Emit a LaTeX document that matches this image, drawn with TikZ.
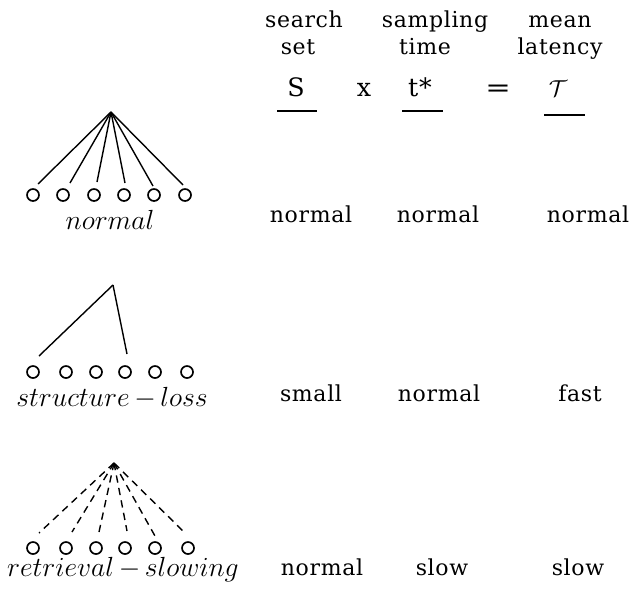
\documentclass[tikz,border=0pt]{standalone}
\usepackage{fontspec}
\usetikzlibrary{calc}
% slab-serif face for the table, italic math face for the tree labels
\newfontfamily\slabface[LetterSpace=3]{DejaVu Serif}
\newcommand\slabfont{\slabface\fontsize{16.5}{20}\selectfont}
\newcommand\prodfont{\slabface\fontsize{19}{22}\selectfont}
\newcommand\labfont{\fontsize{20}{24}\selectfont}
\newcommand\hy{\mkern3mu\mathord{-}\mkern3mu}
\begin{document}
\begin{tikzpicture}[x=0.75pt,y=-0.75pt,
  leaf/.style={circle,draw,line width=1.25pt,minimum size=9pt,inner sep=0pt},
  edge/.style={line width=1.05pt},
  dashedge/.style={line width=1.05pt,dash pattern=on 5.5pt off 4pt},
  rule/.style={line width=1.1pt},
  word/.style={font=\slabfont,anchor=base,inner sep=0pt},
  prod/.style={font=\prodfont,anchor=base,inner sep=0pt},
  lab/.style={font=\labfont,anchor=base,inner sep=0pt}]
\useasboundingbox (0,0) rectangle (634,588);

% column headings
\node[word] (h1a) at (304,28) {search};
\node[word] (h1b) at (298,55) {set};
\node[word] (h2a) at (435,28) {sampling};
\node[word] (h2b) at (425,55) {time};
\node[word] (h3a) at (560,28) {mean};
\node[word] (h3b) at (560,55) {latency};

% the product S x t* = T
\node[prod] (S) at (296,97) {S};
\node[prod] (times) at (364,97) {x};
\node[prod] (t) at (420,97) {t*};
\node[prod] (eq) at (498,97) {\addfontfeatures{FakeStretch=1.2}=};
\node[prod] (tau) at (558,97) {$\mathcal{T}$};
\coordinate (uS1) at (277,111);  \coordinate (uS2) at (317,111);
\coordinate (ut1) at (402,111);  \coordinate (ut2) at (443,111);
\coordinate (uT1) at (544,115);  \coordinate (uT2) at (585,115);
\draw[rule] (uS1) -- (uS2);
\draw[rule] (ut1) -- (ut2);
\draw[rule] (uT1) -- (uT2);

% tree 1: normal
\coordinate (ra) at (111,112);
\foreach \i/\x in {1/33,2/63,3/94,4/124,5/154,6/185}
  \node[leaf] (a\i) at (\x,195) {};
\foreach \i/\x/\y in {1/38/184,2/70/183,3/97/182,4/125/183,5/153/186,6/183/185}{
  \coordinate (ea\i) at (\x,\y);
  \draw[edge] (ra) -- (ea\i);
}
\node[lab] (la) at (110,229) {$normal$};

% tree 2: structure-loss
\coordinate (rb) at (113,285);
\foreach \i/\x in {1/33,2/66,3/96,4/125,5/155,6/187}
  \node[leaf] (b\i) at (\x,372) {};
\coordinate (eb1) at (39,356);
\coordinate (eb2) at (127,354);
\draw[edge] (rb) -- (eb1);
\draw[edge] (rb) -- (eb2);
\node[lab] (lb) at (112,406) {$structure\hy loss$};

% tree 3: retrieval-slowing
\coordinate (rc) at (114,463);
\foreach \i/\x in {1/33,2/66,3/96,4/125,5/155,6/188}
  \node[leaf] (c\i) at (\x,548) {};
\foreach \i/\x/\y in {1/39/533,2/72/532,3/99/532,4/127/531,5/155/536,6/185/533}{
  \coordinate (ec\i) at (\x,\y);
  \draw[dashedge] (rc) -- (ec\i);
}
\node[lab] (lc) at (123,576) {$retrieval\hy slowing$};

% table rows
\node[word] (v11) at (311,222) {normal};
\node[word] (v12) at (438,222) {normal};
\node[word] (v13) at (588,222) {normal};
\node[word] (v21) at (311,401) {small};
\node[word] (v22) at (439,401) {normal};
\node[word] (v23) at (580,401) {fast};
\node[word] (v31) at (322,575) {normal};
\node[word] (v32) at (442,575) {slow};
\node[word] (v33) at (578,575) {slow};
\end{tikzpicture}
\end{document}
